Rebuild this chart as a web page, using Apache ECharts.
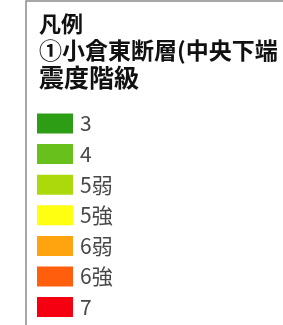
<!DOCTYPE html>
<html>
<head>
<meta charset="utf-8">
<script src="https://cdn.jsdelivr.net/npm/echarts@6/dist/echarts.min.js"></script>
<style>
  html, body { margin: 0; padding: 0; background: #fff; }
  #chart { width: 283px; height: 325px; }
</style>
</head>
<body>
<div id="chart"></div>
<script>
// 凡例の中身
const heading = '凡例'
const scenario = '①小倉東断層(中央下端'
const scaleTitle = '震度階級'
const classes = ['3', '4', '5弱', '5強', '6弱', '6強', '7']
const classColors = ['#2e9d16', '#68c01c', '#acd90c', '#ffff12', '#ffa30e', '#ff5e0c', '#f40010']

const font = '"Noto Sans CJK JP", "Noto Sans", sans-serif'

let option = {
    animation: false,
    title: [
        { text: heading, left: 39, top: 13, padding: 0,
          textStyle: { fontFamily: font, fontSize: 22, fontWeight: 'bold', color: '#111' } },
        { text: scenario, left: 39, top: 39, padding: 0,
          textStyle: { fontFamily: font, fontSize: 23, fontWeight: 'bold', color: '#111' } },
        { text: scaleTitle, left: 39, top: 65, padding: 0,
          textStyle: { fontFamily: font, fontSize: 25, fontWeight: 'bold', color: '#111' } }
    ],
    legend: {
        orient: 'vertical',
        left: 37,
        top: 113,
        padding: 0,
        icon: 'rect',
        itemWidth: 36,
        itemHeight: 20,
        itemGap: 9.6,
        itemStyle: { opacity: 1 },
        textStyle: { fontFamily: font, fontSize: 21, color: '#474747', lineHeight: 20, padding: [0, 0, 0, 2] },
        data: classes
    },
    graphic: [{
        type: 'rect',
        shape: { x: 26, y: 1, width: 400, height: 400 },
        style: { fill: 'none', stroke: '#8a8a8a', lineWidth: 1.5 }
    }],
    xAxis: { show: false },
    yAxis: { show: false },
    series: classes.map((c, i) => ({
        name: c,
        type: 'scatter',
        data: [],
        itemStyle: { color: classColors[i], opacity: 1 }
    }))
}

let charts = echarts.init(document.getElementById('chart'))
charts.setOption(option)
</script>
</body>
</html>
